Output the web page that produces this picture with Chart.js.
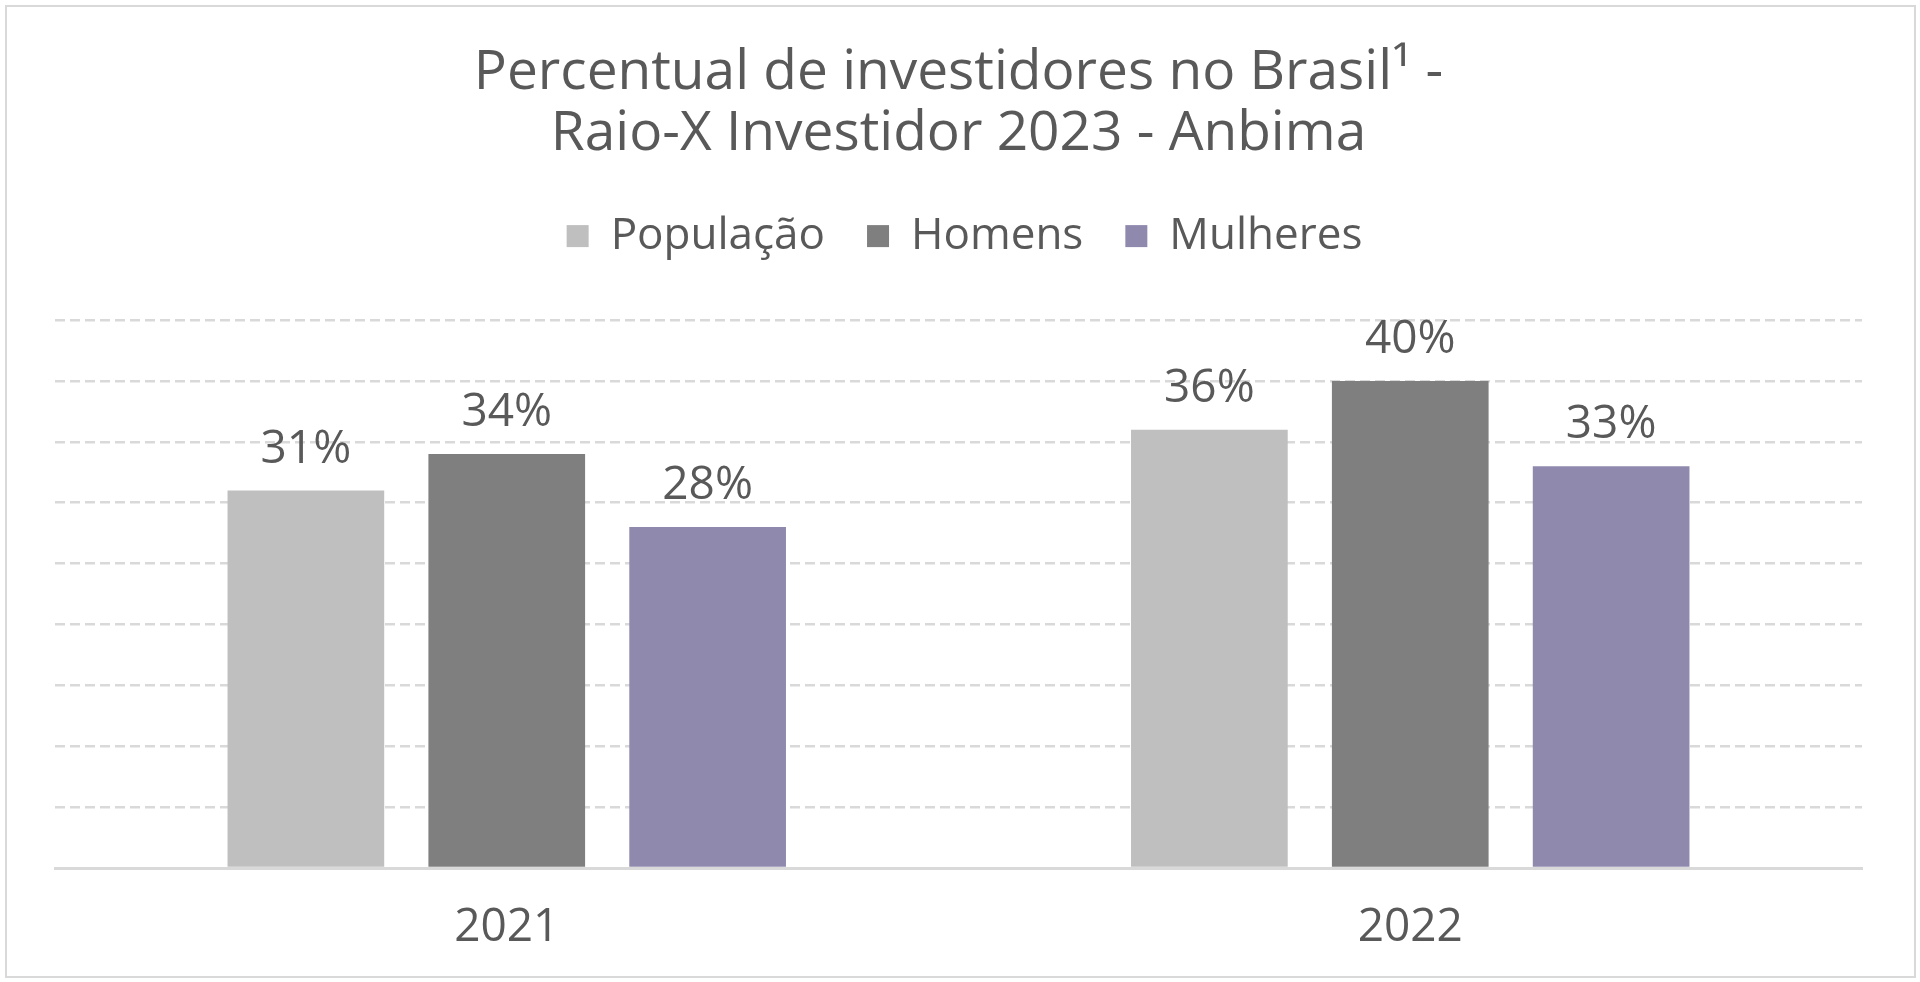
<!DOCTYPE html>
<html>
<head>
<meta charset="utf-8">
<title>Percentual de investidores no Brasil</title>
<script src="https://cdn.jsdelivr.net/npm/chart.js@4"></script>
<style>
  html, body { margin: 0; padding: 0; background: #fff; }
  #wrap { position: relative; width: 1920px; height: 982px; }
  #frame {
    position: absolute; left: 5px; top: 5px; width: 1911px; height: 973px;
    box-sizing: border-box; border: 2px solid #d9d9d9; pointer-events: none;
  }
</style>
</head>
<body>
<div id="wrap">
  <canvas id="investorChart" width="1920" height="982"></canvas>
  <div id="frame"></div>
</div>
<script>
const years = ["2021", "2022"];
const populacao = [31, 36];
const homens = [34, 40];
const mulheres = [28, 33];

const textColor = "#595959";
const fontFamily = "'Open Sans', Lato, sans-serif";

// percent labels on top of each bar
const barLabels = {
  id: "barLabels",
  afterDatasetsDraw(chart) {
    const ctx = chart.ctx;
    ctx.save();
    ctx.font = `46px ${fontFamily}`;
    ctx.fillStyle = textColor;
    ctx.textAlign = "center";
    ctx.textBaseline = "alphabetic";
    chart.data.datasets.forEach((ds, i) => {
      chart.getDatasetMeta(i).data.forEach((bar, j) => {
        ctx.fillText(ds.data[j] + "%", bar.x, bar.y - 28);
      });
    });
    ctx.restore();
  }
};

// extra room under the legend, and nudge it a bit to the right
const legendGap = {
  id: "legendGap",
  beforeInit(chart) {
    const fit = chart.legend.fit;
    chart.legend.fit = function () {
      fit.bind(chart.legend)();
      this.height += 52;
    };
  },
  afterLayout(chart) {
    chart.legend.left += 6;
    chart.legend.right += 6;
  }
};

const ctx = document.getElementById("investorChart").getContext("2d");

new Chart(ctx, {
  type: "bar",
  data: {
    labels: years,
    datasets: [
      { label: "População", data: populacao, backgroundColor: "#bfbfbf" },
      { label: "Homens", data: homens, backgroundColor: "#7f7f7f" },
      { label: "Mulheres", data: mulheres, backgroundColor: "#8f89ae" }
    ]
  },
  options: {
    responsive: false,
    animation: false,
    categoryPercentage: 0.667,
    barPercentage: 0.78,
    layout: { padding: { left: 55, right: 58, top: 43, bottom: 0 } },
    plugins: {
      title: {
        display: true,
        text: ["Percentual de investidores no Brasil¹ -", "Raio-X Investidor 2023 - Anbima"],
        color: textColor,
        font: { family: fontFamily, size: 55, weight: "normal", lineHeight: 1.11 },
        padding: { top: 0, bottom: 7 }
      },
      legend: {
        display: true,
        labels: {
          color: textColor,
          font: { family: fontFamily, size: 44 },
          boxWidth: 22,
          boxHeight: 22,
          padding: 42
        }
      },
      tooltip: { enabled: false }
    },
    scales: {
      x: {
        afterFit(scale) { scale.height = 114; },
        grid: { display: false, drawTicks: false },
        border: { display: true, color: "#d9d9d9", width: 3 },
        ticks: { color: textColor, font: { family: fontFamily, size: 46 }, padding: 32 }
      },
      y: {
        min: 0,
        max: 45,
        ticks: { display: false, stepSize: 5 },
        border: { display: false, dash: [10, 5] },
        grid: { color: "#d9d9d9", lineWidth: 2.5, drawTicks: false }
      }
    }
  },
  plugins: [barLabels, legendGap]
});
</script>
</body>
</html>
